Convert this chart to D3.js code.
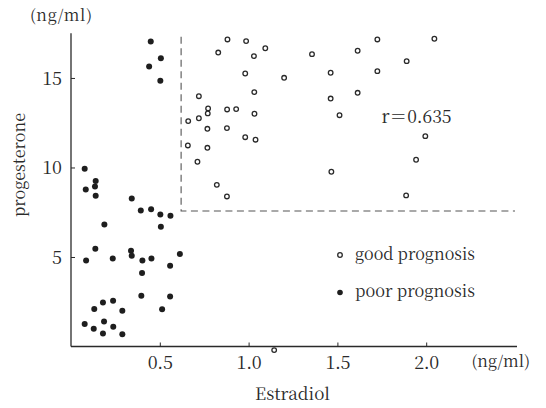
<!DOCTYPE html>
<html>
<head>
<meta charset="utf-8">
<script src="https://cdn.jsdelivr.net/npm/d3@7"></script>
<style>
  html, body { margin: 0; padding: 0; background: #fff; }
  svg { display: block; }
</style>
</head>
<body>
<svg id="chart" width="546" height="408"></svg>
<script>
// ---- data ----
const goodEstradiol = [0.72, 0.772, 0.77, 0.66, 0.72, 0.768, 0.658, 0.768, 0.712, 0.881,
  0.986, 0.829, 1.03, 1.094, 1.357, 1.614, 0.981, 1.2, 1.462, 1.032,
  1.462, 1.614, 0.879, 0.93, 1.033, 1.512, 0.878, 0.981, 1.039, 1.466,
  0.821, 1.725, 2.046, 1.89, 1.725, 1.995, 1.943, 1.887, 0.878, 1.144];
const goodProgesterone = [13.98, 13.3, 13.02, 12.59, 12.75, 12.16, 11.23, 11.1, 10.32, 17.15,
  17.06, 16.42, 16.22, 16.66, 16.33, 16.52, 15.25, 15.01, 15.29, 14.21,
  13.85, 14.17, 13.24, 13.26, 13.0, 12.92, 12.2, 11.69, 11.55, 9.76,
  9.03, 17.15, 17.19, 15.94, 15.38, 11.75, 10.43, 8.44, 8.38, -0.2];

const poorEstradiol = [0.449, 0.506, 0.44, 0.503, 0.077, 0.139, 0.135, 0.083, 0.139, 0.342,
  0.393, 0.451, 0.503, 0.56, 0.506, 0.188, 0.137, 0.085, 0.235, 0.338,
  0.342, 0.402, 0.453, 0.613, 0.558, 0.4, 0.396, 0.558, 0.513, 0.289,
  0.237, 0.18, 0.131, 0.077, 0.128, 0.186, 0.238, 0.18, 0.289];
const poorProgesterone = [17.04, 16.1, 15.64, 14.84, 9.93, 9.24, 8.94, 8.77, 8.42, 8.27,
  7.6, 7.67, 7.37, 7.3, 6.69, 6.82, 5.46, 4.8, 4.92, 5.35,
  5.07, 4.8, 4.92, 5.16, 4.51, 4.1, 2.83, 2.79, 2.08, 1.99,
  2.55, 2.46, 2.1, 1.25, 0.99, 1.4, 1.1, 0.73, 0.69];

const xTicks = [0.5, 1.0, 1.5, 2.0];
const yTicks = [5, 10, 15];
const cutoffEstradiol = 0.62;
const cutoffProgesterone = 7.57;
const correlationLabel = "r＝0.635";
const legendLabels = ["good prognosis", "poor prognosis"];
const unitLabel = "(ng/ml)";

// ---- drawing ----
const FONT = '"Noto Serif CJK JP", "Liberation Serif", "DejaVu Serif"';
const svg = d3.select("#chart");
const ink = "#2a2a2a";

const x = d3.scaleLinear().domain([0, 2.5]).range([71, 515]);
const y = d3.scaleLinear().domain([0, 17.5]).range([346.5, 33.2]);

// x axis
const xAxis = svg.append("g")
  .attr("transform", `translate(0,${y(0)})`)
  .call(d3.axisBottom(x).tickValues(xTicks).tickSizeInner(-4).tickSizeOuter(0)
    .tickFormat(d3.format(".1f")));
xAxis.select(".domain").attr("stroke", ink).attr("stroke-width", 1.3)
  .attr("d", `M${x(0)},0H517`);
xAxis.selectAll(".tick line").attr("stroke", ink).attr("stroke-width", 1);
xAxis.selectAll(".tick text")
  .attr("y", 16).attr("dy", "0.35em")
  .attr("font-size", 18).attr("textLength", 25).attr("lengthAdjust", "spacing")
  .style("font-family", FONT).attr("fill", ink);

// y axis
const yAxis = svg.append("g")
  .attr("transform", `translate(${x(0)},0)`)
  .call(d3.axisLeft(y).tickValues(yTicks).tickSizeInner(-4).tickSizeOuter(0)
    .tickFormat(d3.format("d")));
yAxis.select(".domain").attr("stroke", ink).attr("stroke-width", 1.3)
  .attr("d", `M0,${y(0)}V${y(17.5)}`);
yAxis.selectAll(".tick line").attr("stroke", ink).attr("stroke-width", 1);
yAxis.selectAll(".tick text")
  .attr("x", -9).attr("dy", "0.36em")
  .attr("font-size", 18)
  .style("font-family", FONT).attr("fill", ink);

// dashed cutoff lines
svg.append("path")
  .attr("d", `M${x(cutoffEstradiol)},${y(17.3)}V${y(cutoffProgesterone)}H${x(2.5)}`)
  .attr("fill", "none").attr("stroke", "#555").attr("stroke-width", 1.1)
  .attr("stroke-dasharray", "7,4.5");

// points: poor prognosis (filled)
svg.append("g").selectAll("circle")
  .data(d3.zip(poorEstradiol, poorProgesterone))
  .join("circle")
  .attr("cx", d => x(d[0])).attr("cy", d => y(d[1]))
  .attr("r", 3).attr("fill", "#1e1e1e");

// points: good prognosis (open)
svg.append("g").selectAll("circle")
  .data(d3.zip(goodEstradiol, goodProgesterone))
  .join("circle")
  .attr("cx", d => x(d[0])).attr("cy", d => y(d[1]))
  .attr("r", 2.3).attr("fill", "#fff").attr("stroke", "#2a2a2a").attr("stroke-width", 1.3);

function label(xp, yp, size, len, txt, adjust) {
  return svg.append("text").attr("x", xp).attr("y", yp)
    .attr("font-size", size).attr("textLength", len)
    .attr("lengthAdjust", adjust || "spacingAndGlyphs")
    .style("font-family", FONT).attr("fill", ink).text(txt);
}

// correlation text
label(381.5, 122.5, 18, 70, correlationLabel);

// legend
const legendY = [255, 292.5];
svg.append("circle").attr("cx", 340).attr("cy", legendY[0]).attr("r", 2.3)
  .attr("fill", "#fff").attr("stroke", "#2a2a2a").attr("stroke-width", 1.3);
svg.append("circle").attr("cx", 340).attr("cy", legendY[1]).attr("r", 2.8)
  .attr("fill", "#1e1e1e");
legendLabels.forEach((t, i) => label(355, legendY[i] + 4.5, 17, 120, t));

// axis titles and units
label(30, 21, 16, 62, unitLabel, "spacing");
label(471.5, 367, 16, 58.5, unitLabel, "spacing");
label(255, 400, 17, 75, "Estradiol");
label(0, 0, 16.5, 104, "progesterone").attr("transform", "translate(25,217) rotate(-90)");
</script>
</body>
</html>
